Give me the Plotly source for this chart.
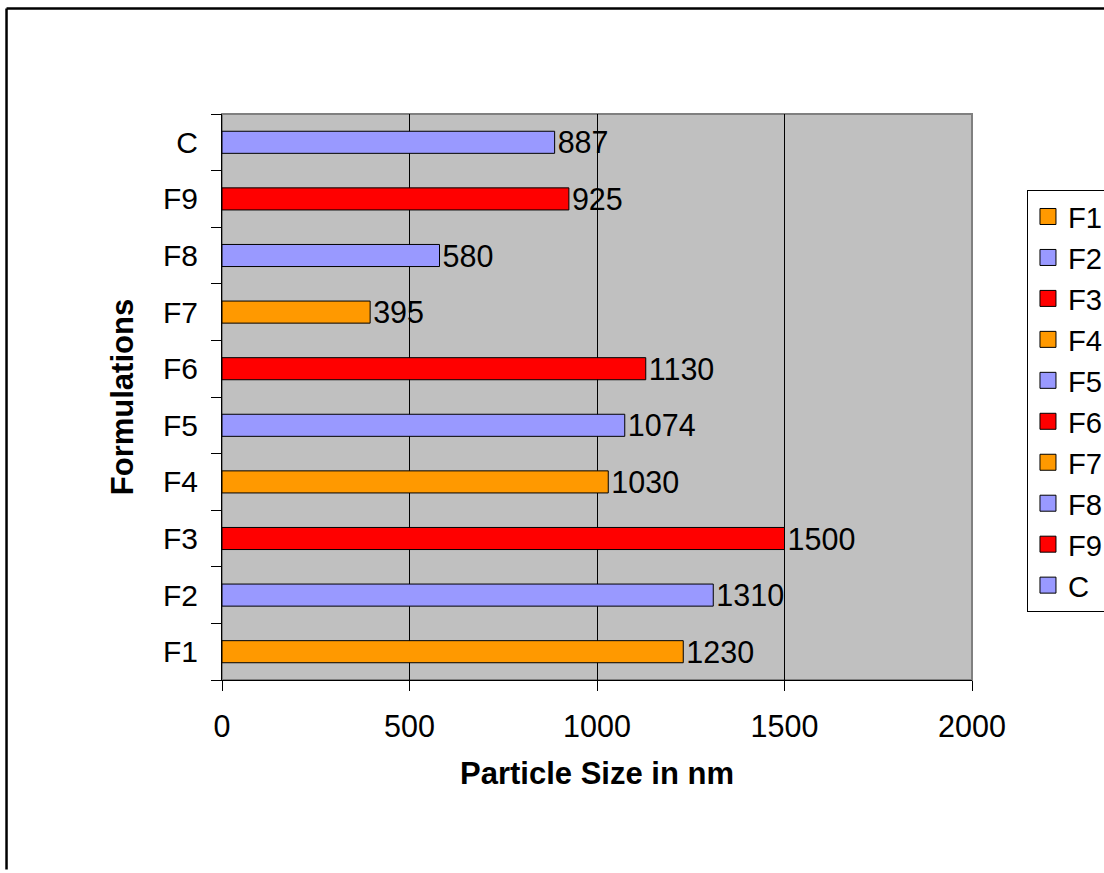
import plotly.graph_objects as go

categories = ["F1", "F2", "F3", "F4", "F5", "F6", "F7", "F8", "F9", "C"]
sizes = [1230, 1310, 1500, 1030, 1074, 1130, 395, 580, 925, 887]
colors = ["#FF9900", "#9999FF", "#FF0000", "#FF9900", "#9999FF", "#FF0000",
          "#FF9900", "#9999FF", "#FF0000", "#9999FF"]
x_ticks = [0, 500, 1000, 1500, 2000]

FONT = "Arial, 'Liberation Sans', sans-serif"

fig = go.Figure()
for cat, val, col in zip(categories, sizes, colors):
    fig.add_trace(go.Bar(
        x=[val], y=[cat], orientation="h", name=cat,
        marker=dict(color=col, line=dict(color="black", width=1)),
        width=0.39, text=[str(val)], textposition="outside",
        textfont=dict(size=30.5, color="black", family=FONT),
        constraintext="none", cliponaxis=False, showlegend=False,
    ))
for cat, col in zip(categories, colors):
    fig.add_trace(go.Scatter(
        x=[None], y=[None], mode="markers", name=cat,
        marker=dict(symbol="square", size=16, color=col,
                    line=dict(color="black", width=1)),
    ))

fig.update_layout(
    width=1104, height=873,
    margin=dict(l=222, r=132, t=114, b=193, autoexpand=False),
    paper_bgcolor="white", plot_bgcolor="#C0C0C0",
    font=dict(family=FONT, size=30, color="black"),
    barmode="overlay",
    showlegend=True,
    legend=dict(
        x=1.0733, y=0.8657, xanchor="left", yanchor="top",
        bgcolor="white", bordercolor="black", borderwidth=1,
        font=dict(size=29.2, family=FONT),
        traceorder="normal",
    ),
    xaxis=dict(
        range=[0, 2000], tickvals=x_ticks, ticktext=[str(v) for v in x_ticks],
        showgrid=True, gridcolor="black", gridwidth=1, zeroline=False,
        showline=True, linecolor="black", linewidth=1,
        ticks="outside", ticklen=10, tickcolor="black",
        ticklabelstandoff=9, tickfont=dict(size=30.5),
        title=dict(text="<b>Particle Size in nm</b>", font=dict(size=31), standoff=20),
    ),
    yaxis=dict(
        type="category", categoryorder="array", categoryarray=categories,
        range=[-0.5, 9.5], showgrid=False, zeroline=False,
        showline=True, linecolor="black", linewidth=1,
        ticks="outside", tickson="boundaries", ticklen=10, tickcolor="black",
        ticklabelstandoff=17,
        title=dict(text="<b>Formulations</b>", font=dict(size=31), standoff=20),
    ),
    shapes=[
        dict(type="rect", xref="paper", yref="paper", x0=0, x1=1, y0=0, y1=1,
             line=dict(color="#808080", width=2), layer="below"),
        dict(type="line", xref="paper", yref="paper",
             x0=-0.2873, x1=-0.2873, y0=-0.335, y1=1.1864,
             line=dict(color="black", width=2.5)),
        dict(type="line", xref="paper", yref="paper",
             x0=-0.2873, x1=1.176, y0=1.1864, y1=1.1864,
             line=dict(color="black", width=2.5)),
    ],
)

fig.write_html("out.html")
